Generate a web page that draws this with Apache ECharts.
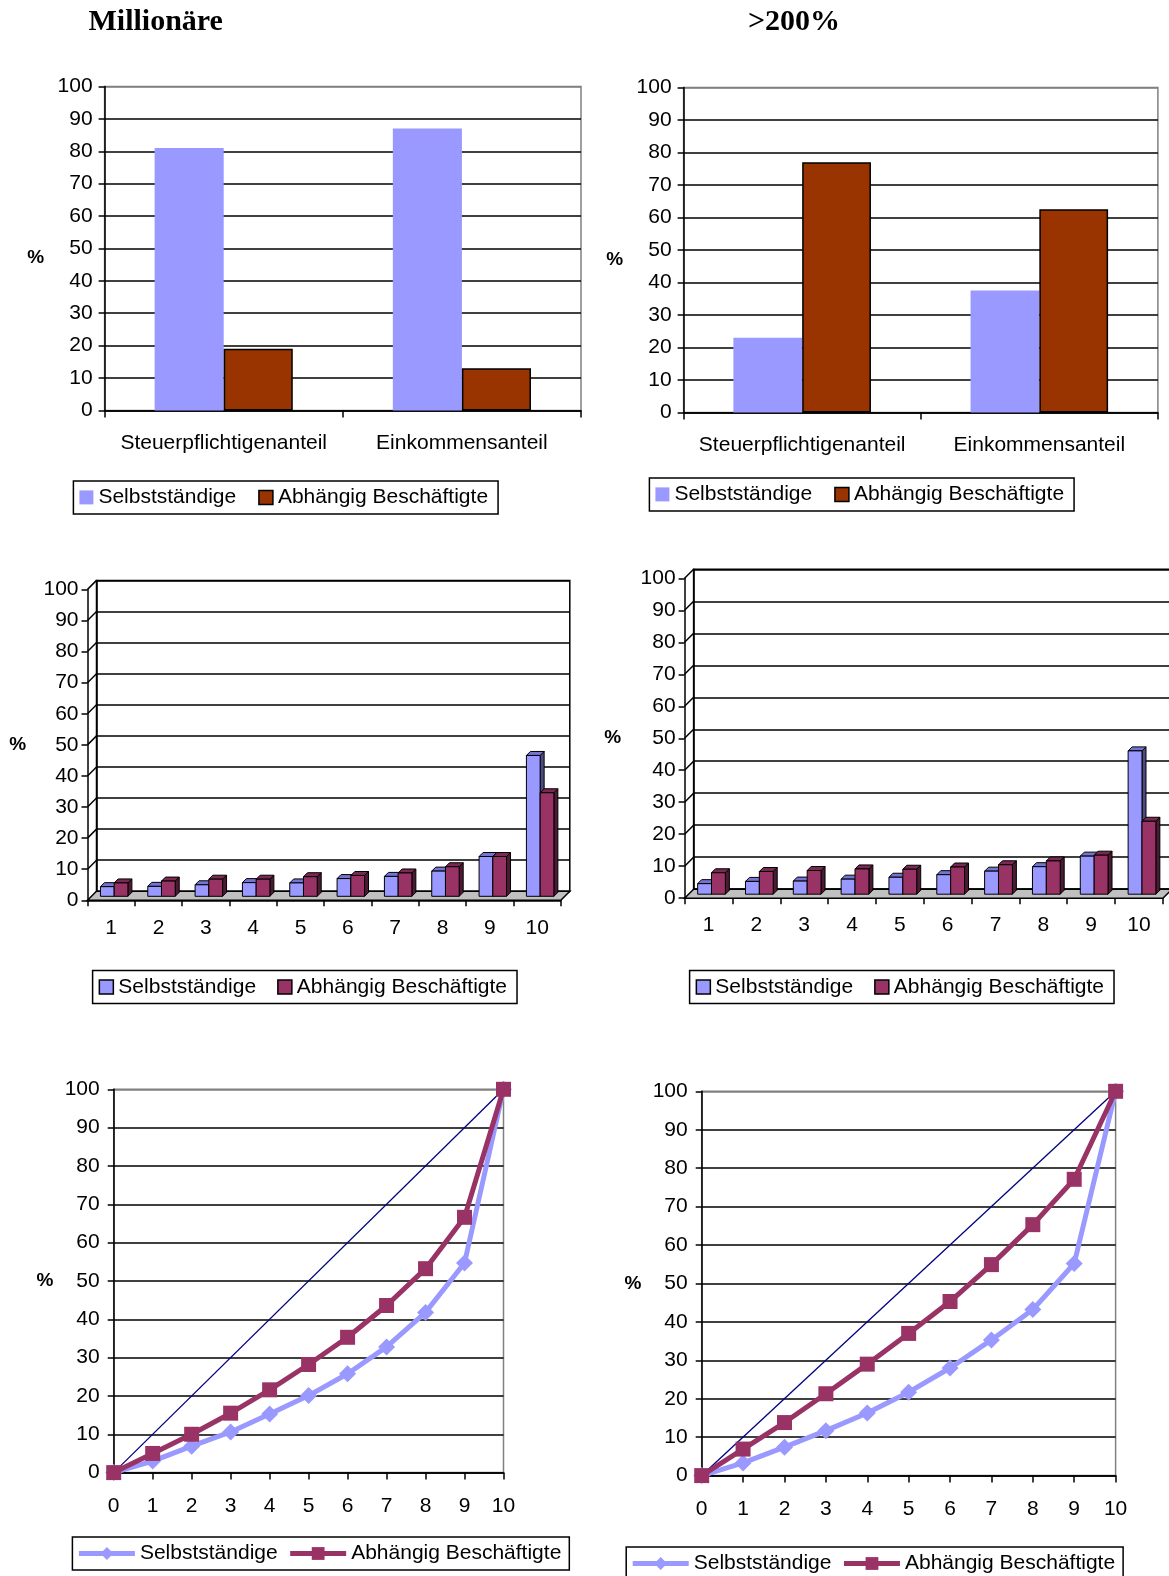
<!DOCTYPE html>
<html><head><meta charset="utf-8">
<script src="https://cdn.jsdelivr.net/npm/echarts@6/dist/echarts.min.js"></script>
<style>
html,body{margin:0;padding:0;background:#fff}
body{width:1169px;height:1576px;position:relative;overflow:hidden}
.p{position:absolute}
</style></head><body>
<script>
// ---------- data ----------
const titles = ['Millionäre', '>200%'];
const seriesNames = ['Selbstständige', 'Abhängig Beschäftigte'];
const shareCategories = ['Steuerpflichtigenanteil', 'Einkommensanteil'];
const millShareSelbst = [81, 87];
const millShareAbh = [19, 13];
const overShareSelbst = [23, 37.5];
const overShareAbh = [77, 62.5];

const deciles = ['1', '2', '3', '4', '5', '6', '7', '8', '9', '10'];
const millDecSelbst = [3.1, 3.2, 3.7, 4.4, 4.3, 5.7, 6.4, 8.1, 12.8, 45.3];
const millDecAbh = [4.3, 4.9, 5.5, 5.5, 6.3, 6.7, 7.5, 9.5, 12.8, 33.3];
const overDecSelbst = [3.3, 4.0, 4.1, 4.7, 5.3, 6.1, 7.2, 8.6, 11.9, 44.8];
const overDecAbh = [6.7, 7.1, 7.4, 7.9, 7.8, 8.5, 9.2, 10.4, 12.2, 22.8];

const lorenzX = [0, 1, 2, 3, 4, 5, 6, 7, 8, 9, 10];
const millLorSelbst = [0, 3.0, 6.9, 10.6, 15.3, 20.1, 25.8, 32.8, 41.8, 54.7, 100];
const millLorAbh = [0, 5.0, 10.0, 15.5, 21.6, 28.2, 35.3, 43.6, 53.2, 66.6, 100];
const overLorSelbst = [0, 3.3, 7.4, 11.7, 16.3, 21.7, 28.0, 35.3, 43.2, 55.2, 100];
const overLorAbh = [0, 6.9, 13.8, 21.3, 29.0, 37.0, 45.3, 54.9, 65.3, 77.1, 100];
const equalityX = [0, 10];
const equalityY = [0, 100];

// ---------- styling ----------
const K = 1.006;
const s = v => Math.round(v * K * 10) / 10;
const SANS = 'Liberation Sans, Arial, sans-serif';
const SERIF = 'Liberation Serif, Times New Roman, serif';
const BLK = '#000';
const FS = 21;
const splitColors = ['#000','#000','#000','#000','#000','#000','#000','#000','#000','#000','#808080'];
const txt = {fontFamily: SANS, fontSize: FS, color: BLK};

function legendBox(left, top, extra) {
  return Object.assign({
    left: s(left), top: s(top), orient: 'horizontal',
    padding: [6, 10, 6, 6], borderColor: BLK, borderWidth: 1.5,
    itemGap: 22, itemWidth: 14, itemHeight: 14,
    textStyle: {fontFamily: SANS, fontSize: FS, color: BLK}
  }, extra || {});
}

function pctAxis(gap, vAlign, extra) {
  return Object.assign({
    type: 'value', min: 0, max: 100, interval: 10,
    name: '%', nameLocation: 'middle', nameRotate: 0, nameGap: s(gap),
    nameTextStyle: {fontFamily: SANS, fontWeight: 'bold', fontSize: 19, color: BLK, verticalAlign: vAlign},
    axisLine: {show: true, lineStyle: {color: BLK, width: 1.5}},
    axisTick: {show: true, length: 6, lineStyle: {color: BLK, width: 1.5}},
    axisLabel: Object.assign({margin: 12}, txt),
    splitLine: {show: true, lineStyle: {color: splitColors, width: 1.5}}
  }, extra || {});
}

function gridOf(g) {
  return {left: s(g[0]), top: s(g[1]), right: s(g[2]), height: s(g[3])};
}

// ---------- top bar charts ----------
function barOption(c) {
  return {
    animation: false,
    title: {text: c.title, left: s(c.titleLeft), top: s(2), textStyle: {fontFamily: SERIF, fontWeight: 'bold', fontSize: 30, color: BLK}},
    grid: Object.assign(gridOf(c.g), {show: true, borderColor: '#808080', borderWidth: 1.5}),
    legend: legendBox(c.leg[0], c.leg[1], {
      data: [
        {name: seriesNames[0], icon: 'rect', itemStyle: {color: '#9999ff', borderWidth: 0}},
        {name: seriesNames[1], icon: 'rect', itemStyle: {color: '#993300', borderColor: BLK, borderWidth: 1.5}}
      ]
    }),
    xAxis: {
      type: 'category', data: shareCategories,
      axisLine: {lineStyle: {color: BLK, width: 1.5}},
      axisTick: {show: true, length: 7, lineStyle: {color: BLK, width: 1.5}},
      axisLabel: Object.assign({margin: 22, interval: 0}, txt)
    },
    yAxis: pctAxis(c.nameGap, 'top'),
    series: [
      {name: seriesNames[0], type: 'bar', data: c.s, barGap: '0%', barCategoryGap: '42%', itemStyle: {color: '#9999ff'}},
      {name: seriesNames[1], type: 'bar', data: c.a, itemStyle: {color: '#993300', borderColor: BLK, borderWidth: 1.5}}
    ]
  };
}

// ---------- 3D column charts ----------
const WDX = 9, WDY = -9;   // wall depth
const BD = 4;              // bar depth
function make3DBar(k, values, front, top, side) {
  return {
    name: seriesNames[k], type: 'custom', xAxisIndex: 0, yAxisIndex: 0, z: 5,
    itemStyle: {color: front, borderColor: BLK, borderWidth: 1},
    encode: {x: 0, y: 1},
    data: values.map((v, i) => [i, v]),
    renderItem: function (params, api) {
      const cat = api.value(0), v = api.value(1);
      const b = api.coord([cat, 0]), t = api.coord([cat, v]);
      const band = api.size([1, 0])[0];
      const w = band * 0.29;
      const ox = 3, oy = -4;
      const x0 = b[0] - w + k * w + ox;
      const yb = b[1] + oy, yt = t[1] + oy;
      const st = {stroke: BLK, lineWidth: 1};
      return {type: 'group', children: [
        {type: 'polygon', shape: {points: [[x0 + w, yt], [x0 + w + BD, yt - BD], [x0 + w + BD, yb - BD], [x0 + w, yb]]}, style: Object.assign({fill: side}, st)},
        {type: 'polygon', shape: {points: [[x0, yt], [x0 + w, yt], [x0 + w + BD, yt - BD], [x0 + BD, yt - BD]]}, style: Object.assign({fill: top}, st)},
        {type: 'rect', shape: {x: x0, y: yt, width: w, height: yb - yt}, style: Object.assign({fill: front}, st)}
      ]};
    }
  };
}
function floorSeries() {
  return {
    type: 'custom', xAxisIndex: 0, yAxisIndex: 0, z: 1, silent: true,
    data: [[0, 0]], encode: {x: 0, y: 1},
    renderItem: function (params, api) {
      const cs = params.coordSys;
      const yb = cs.y + cs.height, xl = cs.x, xr = cs.x + cs.width;
      const ch = [{type: 'polygon', shape: {points: [[xl, yb], [xr, yb], [xr + WDX, yb + WDY], [xl + WDX, yb + WDY]]},
        style: {fill: '#c0c0c0', stroke: BLK, lineWidth: 1.5}}];
      for (let v = 10; v <= 100; v += 10) {
        const p = api.coord([0, v]);
        ch.push({type: 'line', shape: {x1: xl, y1: p[1], x2: xl + WDX, y2: p[1] + WDY}, style: {stroke: BLK, lineWidth: 1.5}});
      }
      return {type: 'group', children: ch};
    }
  };
}
function option3D(c) {
  const g = gridOf(c.g);
  return {
    animation: false,
    grid: [
      g,
      {left: g.left + WDX, top: g.top + WDY, right: g.right - WDX, height: g.height, show: true, borderColor: BLK, borderWidth: 1.5}
    ],
    legend: legendBox(c.leg[0], c.leg[1], {
      itemGap: 21,
      data: [
        {name: seriesNames[0], icon: 'rect', itemStyle: {color: '#9999ff', borderColor: BLK, borderWidth: 1.5}},
        {name: seriesNames[1], icon: 'rect', itemStyle: {color: '#993366', borderColor: BLK, borderWidth: 1.5}}
      ]
    }),
    xAxis: [
      {gridIndex: 0, type: 'category', data: deciles,
        axisLine: {show: true, lineStyle: {color: BLK, width: 1.5}},
        axisTick: {show: true, length: 6, lineStyle: {color: BLK, width: 1.5}},
        axisLabel: Object.assign({margin: 17, interval: 0}, txt)},
      {gridIndex: 1, type: 'category', data: deciles, show: false}
    ],
    yAxis: [
      pctAxis(c.nameGap, 'middle', {gridIndex: 0, splitLine: {show: false}, axisLabel: Object.assign({margin: 9}, txt)}),
      {gridIndex: 1, type: 'value', min: 0, max: 100, interval: 10,
        axisLine: {show: true, lineStyle: {color: BLK, width: 1.5}},
        axisTick: {show: false}, axisLabel: {show: false},
        splitLine: {show: true, lineStyle: {color: BLK, width: 1.5}}}
    ],
    series: [
      floorSeries(),
      make3DBar(0, c.s, '#9999ff', '#7474d4', '#4c4c80'),
      make3DBar(1, c.a, '#993366', '#7a2952', '#4d1a33')
    ]
  };
}

// ---------- Lorenz curves ----------
function lorenzOption(c) {
  return {
    animation: false,
    grid: Object.assign(gridOf(c.g), {show: true, borderColor: '#808080', borderWidth: 1.5}),
    legend: legendBox(c.leg[0], c.leg[1], {
      itemWidth: 56, itemHeight: 16, itemGap: 10, padding: [6, 8, 6, 4],
      data: [
        {name: seriesNames[0], itemStyle: {color: '#9999ff'}, lineStyle: {color: '#9999ff', width: 5}},
        {name: seriesNames[1], itemStyle: {color: '#993366'}, lineStyle: {color: '#993366', width: 5}}
      ]
    }),
    xAxis: {
      type: 'value', min: 0, max: 10, interval: 1,
      axisLine: {show: true, onZero: false, lineStyle: {color: BLK, width: 1.5}},
      axisTick: {show: true, length: 7, lineStyle: {color: BLK, width: 1.5}},
      axisLabel: Object.assign({margin: 23}, txt),
      splitLine: {show: false}
    },
    yAxis: pctAxis(c.nameGap, 'middle', {nameTextStyle: {fontFamily: SANS, fontWeight: 'bold', fontSize: 19, color: BLK, verticalAlign: 'middle', padding: [4, 0, 0, 0]}, axisLabel: Object.assign({margin: 14}, txt)}),
    series: [
      {type: 'line', data: equalityX.map((x, i) => [x, equalityY[i]]), symbol: 'none', silent: true,
        lineStyle: {color: '#000080', width: 1.3}, z: 2},
      {name: seriesNames[0], type: 'line', data: lorenzX.map((x, i) => [x, c.s[i]]),
        symbol: 'diamond', symbolSize: 17, color: '#9999ff',
        lineStyle: {color: '#9999ff', width: 5}, itemStyle: {color: '#9999ff'}, z: 3},
      {name: seriesNames[1], type: 'line', data: lorenzX.map((x, i) => [x, c.a[i]]),
        symbol: 'rect', symbolSize: 15, color: '#993366',
        lineStyle: {color: '#993366', width: 5}, itemStyle: {color: '#993366'}, z: 4}
    ]
  };
}

function mount(box, opt) {
  const d = document.createElement('div');
  d.className = 'p';
  d.style.left = s(box[0]) + 'px'; d.style.top = s(box[1]) + 'px';
  d.style.width = s(box[2]) + 'px'; d.style.height = s(box[3]) + 'px';
  document.body.appendChild(d);
  const ch = echarts.init(d, null, {renderer: 'canvas'});
  ch.setOption(opt);
}

mount([0, 0, 584, 525], barOption({title: titles[0], titleLeft: 83, g: [104, 86, 7, 322], leg: [73, 478], nameGap: 60, s: millShareSelbst, a: millShareAbh}));
mount([584, 0, 585, 525], barOption({title: titles[1], titleLeft: 154, g: [95, 87, 19, 323], leg: [61, 475], nameGap: 60, s: overShareSelbst, a: overShareAbh}));
mount([0, 525, 584, 510], option3D({g: [87, 61, 27, 309], leg: [92, 440], nameGap: 61, s: millDecSelbst, a: millDecAbh}));
mount([584, 525, 585, 510], option3D({g: [96, 50, 14, 318], leg: [101, 440], nameGap: 63, s: overDecSelbst, a: overDecAbh}));
mount([0, 1035, 584, 541], lorenzOption({g: [113, 48, 84, 381], leg: [72, 493], nameGap: 60, s: millLorSelbst, a: millLorAbh}));
mount([584, 1035, 585, 541], lorenzOption({g: [113, 50, 61, 382], leg: [38, 503], nameGap: 60, s: overLorSelbst, a: overLorAbh}));
</script>
</body></html>
